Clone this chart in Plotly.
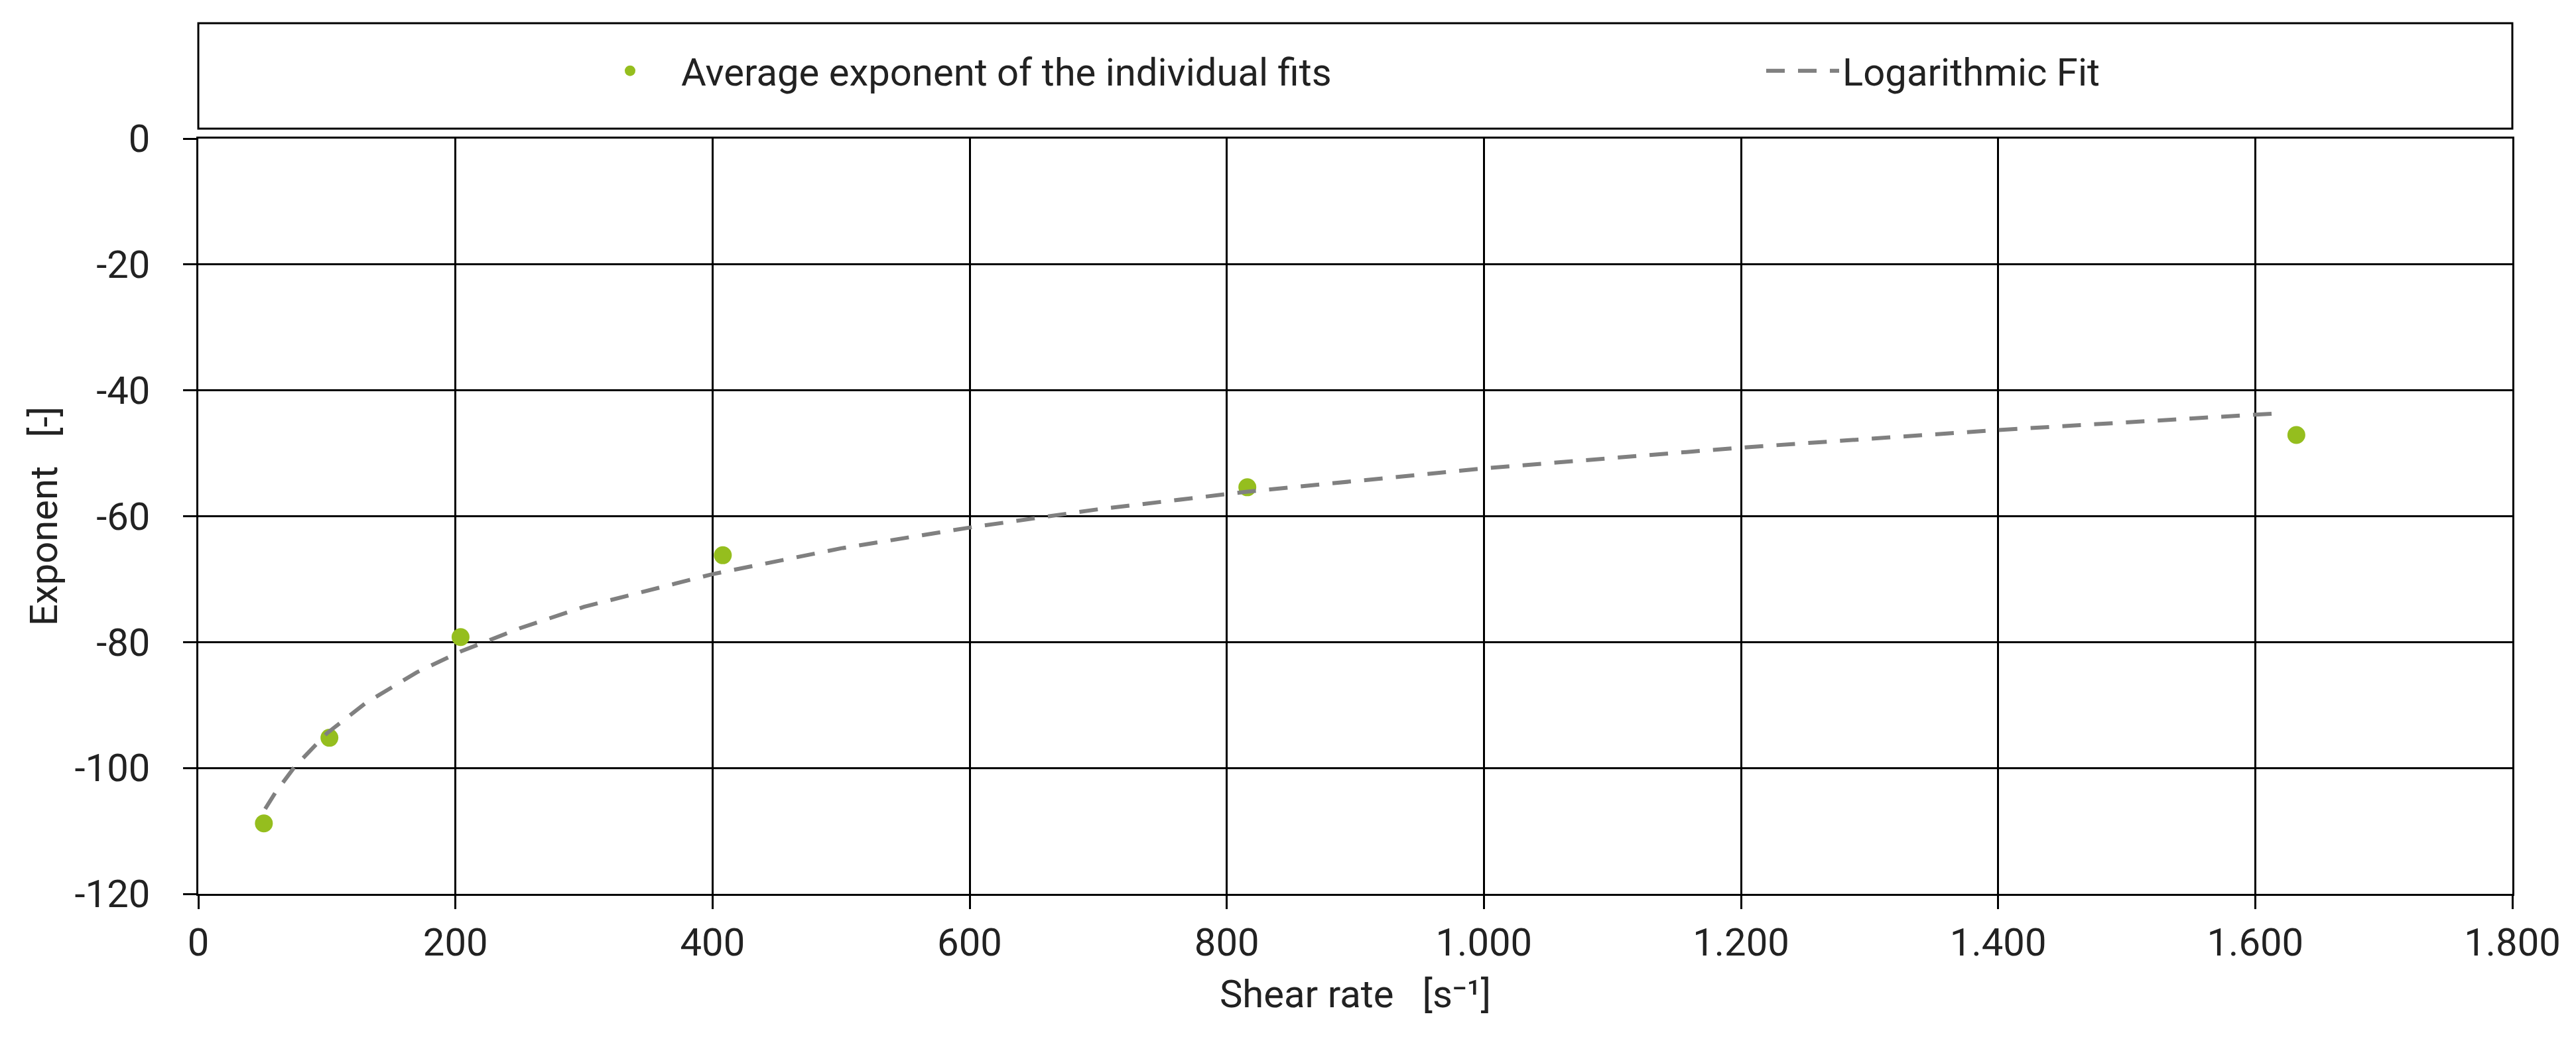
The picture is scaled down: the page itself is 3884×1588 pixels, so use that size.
import plotly.graph_objects as go

# measured points (shear rate, exponent)
shear_rate = [51, 102, 204, 408, 816, 1632]
avg_exponent = [-108.8, -95.2, -79.2, -66.2, -55.4, -47.1]

# logarithmic fit curve
fit_x = [52, 60, 75, 100, 130, 170, 204, 250, 300, 400, 500, 600, 700, 816,
         1000, 1200, 1400, 1600, 1622]
fit_y = [-106.5, -103.9, -99.8, -94.5, -89.7, -84.8, -81.5, -77.8, -74.4, -69.2,
         -65.1, -61.8, -58.9, -56.1, -52.4, -49.1, -46.3, -43.8, -43.6]

y_tick_vals = [0, -20, -40, -60, -80, -100, -120]
y_tick_text = ['0', '-20', '-40', '-60', '-80', '-100', '-120']

W, H = 3884, 1588
L, R, T, B = 291, 3780, 201, 1340
FONT = 'Roboto'
FS = 58
LEG_Y = (B - 99) / (B - T)

fig = go.Figure()
fig.add_trace(go.Scatter(x=shear_rate, y=avg_exponent, mode='markers',
                         name='Average exponent of the individual fits',
                         marker=dict(color='#95BE1E', size=27), legend='legend'))
fig.add_trace(go.Scatter(x=fit_x, y=fit_y, mode='lines',
                         name='Logarithmic Fit', legend='legend2',
                         line=dict(color='#808080', width=6, dash='28px,20px')))

axis_common = dict(showgrid=True, gridcolor='black', gridwidth=3,
                   showline=True, linecolor='black', linewidth=3, mirror=True,
                   ticks='outside', ticklen=20, tickwidth=3, tickcolor='black',
                   zeroline=False, tickfont=dict(family=FONT, size=FS, color='#222'))

fig.update_xaxes(range=[0, 1800], tickvals=list(range(0, 2000, 200)),
                 separatethousands=True, tickformat=',d',
                 title=dict(text='Shear rate\u00a0\u00a0\u00a0[s\u207b\u00b9]',
                            font=dict(family=FONT, size=FS, color='#222'), standoff=25),
                 **axis_common)
fig.update_yaxes(range=[-120, 0], tickvals=y_tick_vals, ticktext=y_tick_text,
                 ticklabelstandoff=38,
                 title=dict(text='Exponent\u00a0\u00a0\u00a0[-]',
                            font=dict(family=FONT, size=FS, color='#222'), standoff=8),
                 **axis_common)

leg_font = dict(family=FONT, size=FS, color='#222')
fig.update_layout(
    width=W, height=H,
    margin=dict(l=L, r=W - R, t=T, b=H - B),
    plot_bgcolor='white', paper_bgcolor='white',
    separators=',.',
    showlegend=True,
    legend=dict(orientation='h', x=(865 - L) / (R - L), xanchor='left',
                y=LEG_Y, yanchor='middle', font=leg_font, itemwidth=144,
                bgcolor='rgba(0,0,0,0)'),
    legend2=dict(orientation='h', x=(2650 - L) / (R - L), xanchor='left',
                 y=LEG_Y, yanchor='middle', font=leg_font, itemwidth=110,
                 bgcolor='rgba(0,0,0,0)'),
    shapes=[dict(type='rect', xref='paper', yref='paper', x0=0, x1=1,
                 y0=(B - 186) / (B - T), y1=(B - 27) / (B - T),
                 line=dict(color='black', width=3), fillcolor='white', layer='below')],
)

fig.write_html('out.html')
